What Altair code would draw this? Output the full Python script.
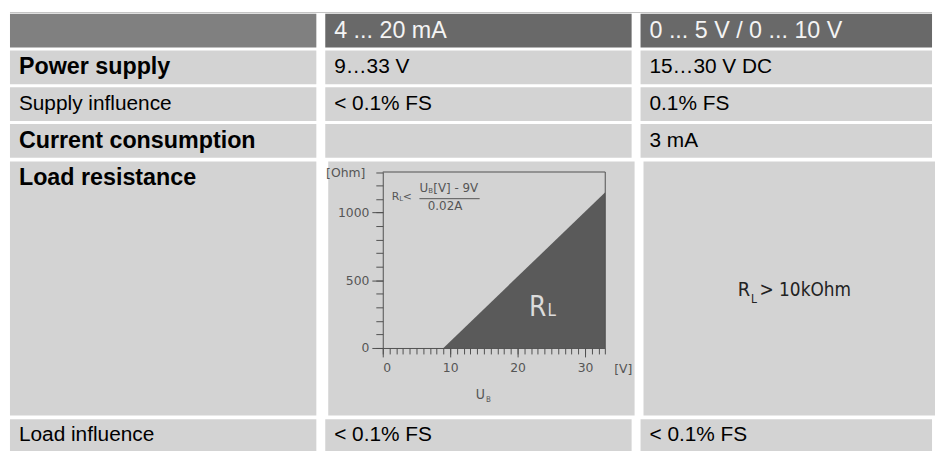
import altair as alt
import pandas as pd

# ---------------- table content ----------------
col_headers = ["", "4 ... 20 mA", "0 ... 5 V / 0 ... 10 V"]
row_labels = ["Power supply", "Supply influence", "Current consumption",
              "Load resistance", "Load influence"]
row_bold = [1, 0, 1, 1, 0]
values_4_20 = ["9…33 V", "< 0.1% FS", "", "", "< 0.1% FS"]
values_0_10 = ["15…30 V DC", "0.1% FS", "3 mA", "", "< 0.1% FS"]
load_0_10 = ["R", "L", "> 10kOhm"]

# ---------------- load-resistance diagram ----------------
ub_volts = [9, 33]
rl_ohms = [0, 1150]
x_domain = [0, 33]
y_domain = [0, 1300]
x_major = [0, 10, 20, 30]
y_major = [0, 500, 1000]
x_minor = list(range(0, 34))
y_minor = list(range(0, 1301, 100))
formula_lhs = ["R", "L", "<"]
formula_num = ["U", "B", "[V] - 9V"]
formula_den = "0.02A"
area_label = ["R", "L"]
x_title = ["U", "B"]
y_title = "[Ohm]"
x_unit = "[V]"

# ---------------- styles ----------------
FONT = "Liberation Sans, Arial, Helvetica, sans-serif"
NARROW = "Liberation Sans Narrow, DejaVu Sans Condensed, Arial Narrow, Liberation Sans, sans-serif"
WIDE = "DejaVu Sans, Verdana, sans-serif"
HEAD0 = "#808080"
HEAD = "#696969"
CELL = "#d3d3d3"
BORDER = "#c4c4c4"
HEAD_TXT = "#f4f4f4"
DARK = "#5a5a5a"
AXIS = "#505050"
LABEL = "#555555"
KINDS = ["head0", "head", "body"]
W = [309, 309, 294]
GAP = 9
TOTAL_W = sum(W) + 2 * GAP
ROW_STEP = 37
ROW_GAP = 3
ROW_BAND = ROW_STEP - ROW_GAP
TOP_H = 4 * ROW_STEP - ROW_GAP
MID_H = 256
BOT_H = 32
VGAP = 4
PAD = 9
FS = 21        # regular body text
FS_BOLD = 23.5  # bold row labels
FS_HEAD = 23.5  # header text

one = pd.DataFrame({"k": [0]})


def rows_panel(texts, kinds, bolds, width, height):
    n = len(texts)
    df = pd.DataFrame({"row": list(range(n)), "text": texts, "kind": kinds, "bold": bolds})
    y = alt.Y("row:O", axis=None,
              scale=alt.Scale(paddingInner=ROW_GAP / ROW_STEP, paddingOuter=0))
    cells = alt.Chart(df).mark_rect().encode(
        y=y,
        fill=alt.Fill("kind:N", scale=alt.Scale(domain=KINDS, range=[HEAD0, HEAD, CELL]),
                      legend=None),
    )

    def txt(flt, weight, size, color):
        return alt.Chart(df).transform_filter(flt).mark_text(
            align="left", baseline="middle", dx=PAD, font=FONT, fontSize=size,
            fontWeight=weight, color=color
        ).encode(y=y, x=alt.value(0), text="text:N")

    return alt.layer(
        cells,
        txt("datum.kind != 'body'", "normal", FS_HEAD, HEAD_TXT),
        txt("datum.kind == 'body' && datum.bold == 0", "normal", FS, "#000000"),
        txt("datum.kind == 'body' && datum.bold == 1", "bold", FS_BOLD, "#000000"),
    ).properties(width=width, height=height)


# ---------------- thin top border of the table ----------------
strip = alt.Chart(one).mark_rect(fill=BORDER).encode(
    x=alt.value(0), x2=alt.value(TOTAL_W), y=alt.value(0), y2=alt.value(1)
).properties(width=TOTAL_W, height=1)

# ---------------- top block (header + 3 rows) ----------------
top_cols = [
    rows_panel([col_headers[0]] + row_labels[:3], ["head0", "body", "body", "body"],
               [0] + row_bold[:3], W[0], TOP_H),
    rows_panel([col_headers[1]] + values_4_20[:3], ["head", "body", "body", "body"],
               [0, 0, 0, 0], W[1], TOP_H),
    rows_panel([col_headers[2]] + values_0_10[:3], ["head", "body", "body", "body"],
               [0, 0, 0, 0], W[2], TOP_H),
]
top = alt.hconcat(*top_cols, spacing=GAP)

# ---------------- middle block (load resistance) ----------------
cell_bg = alt.ViewBackground(fill=CELL, stroke=None)

mid1 = alt.Chart(one).mark_text(
    text=row_labels[3], align="left", baseline="middle", font=FONT, fontSize=FS_BOLD,
    fontWeight="bold", color="black"
).encode(x=alt.value(PAD), y=alt.value(ROW_BAND / 2)).properties(
    width=W[0], height=MID_H, view=cell_bg)

x_scale = alt.Scale(domain=x_domain, range=[55, 279.4], nice=False, zero=False)
y_scale = alt.Scale(domain=y_domain, range=[188, 10.5], nice=False)
X_OFF = -(MID_H - 188)
Y_OFF = -55


def xd(v):
    return alt.XDatum(v, type="quantitative", scale=x_scale)


def yd(v):
    return alt.YDatum(v, type="quantitative", scale=y_scale)


def note(text, xv, yv, size, align="left", font=WIDE, color=LABEL):
    return alt.Chart(one).mark_text(
        text=text, align=align, baseline="alphabetic", font=font, fontSize=size, color=color
    ).encode(x=xd(xv), y=yd(yv))


diag = pd.DataFrame({"ub": ub_volts, "rl": rl_ohms})
area = alt.Chart(diag).mark_area(color=DARK, opacity=1).encode(
    x=alt.X("ub:Q", scale=x_scale,
            axis=alt.Axis(values=x_major, orient="bottom", offset=X_OFF, tickSize=9,
                          labelPadding=5, grid=False, domainColor=AXIS, tickColor=AXIS,
                          labelColor=LABEL, labelFont=WIDE, labelFontSize=12.5, format="d",
                          title=x_unit, titleX=297, titleY=21, titleAlign="center",
                          titleBaseline="middle", titleFont=WIDE, titleFontSize=12.5,
                          titleFontWeight="normal", titleColor=LABEL)),
    y=alt.Y("rl:Q", scale=y_scale,
            axis=alt.Axis(values=y_major, orient="left", offset=Y_OFF, tickSize=11,
                          labelPadding=3, grid=False, domainColor=AXIS, tickColor=AXIS,
                          labelColor=LABEL, labelFont=WIDE, labelFontSize=12.5, format="d",
                          title=y_title, titleAngle=0, titleX=-18, titleY=11.5,
                          titleAlign="right", titleBaseline="middle", titleFont=WIDE,
                          titleFontSize=12.5, titleFontWeight="normal", titleColor=LABEL)),
)

frame_top = alt.Chart(one).mark_rule(color=AXIS, strokeWidth=1).encode(
    x=xd(x_domain[0]), x2=alt.X2Datum(x_domain[1]), y=yd(y_domain[1]))
frame_right = alt.Chart(one).mark_rule(color=AXIS, strokeWidth=1).encode(
    x=xd(x_domain[1]), y=yd(y_domain[0]), y2=alt.Y2Datum(y_domain[1]))
frac_line = alt.Chart(one).mark_rule(color=LABEL, strokeWidth=1).encode(
    x=xd(5.44), x2=alt.X2Datum(14.37), y=yd(1103))

notes = [
    note(formula_lhs[0], 1.32, 1096, 11),
    note(formula_lhs[1], 2.45, 1085, 7),
    note(formula_lhs[2], 2.97, 1096, 11),
    note(formula_num[0], 5.44, 1154, 12),
    note(formula_num[1], 6.76, 1146, 7),
    note(formula_num[2], 7.5, 1154, 12),
    note(formula_den, 9.24, 1018, 12, align="center"),
    note(area_label[0], 24.26, 234, 28, align="right", font=NARROW, color="#dcdcdc"),
    note(area_label[1], 24.45, 234, 17, font=NARROW, color="#dcdcdc"),
    note(x_title[0], 15.15, -380, 14, align="right", font=NARROW),
    note(x_title[1], 15.3, -402, 8, font=NARROW),
]

main = alt.layer(area, frame_top, frame_right, frac_line, *notes)

minor = alt.Chart(one).mark_point(opacity=0).encode(
    x=alt.XDatum(0, type="quantitative", scale=x_scale,
                 axis=alt.Axis(values=x_minor, orient="bottom", offset=X_OFF, tickSize=6,
                               labels=False, domain=False, grid=False, title=None,
                               tickColor=AXIS)),
    y=alt.YDatum(0, type="quantitative", scale=y_scale,
                 axis=alt.Axis(values=y_minor, orient="left", offset=Y_OFF, tickSize=7,
                               labels=False, domain=False, grid=False, title=None,
                               tickColor=AXIS)),
)

mid2 = alt.layer(main, minor).resolve_axis(x="independent", y="independent").properties(
    width=W[1], height=MID_H, view=cell_bg)

mid3 = alt.layer(
    alt.Chart(one).mark_text(text=load_0_10[0], align="right", baseline="alphabetic",
                             font=NARROW, fontSize=20, color="#222222"
                             ).encode(x=alt.value(107.5), y=alt.value(135.7)),
    alt.Chart(one).mark_text(text=load_0_10[1], align="left", baseline="alphabetic",
                             font=NARROW, fontSize=12, color="#222222"
                             ).encode(x=alt.value(108.5), y=alt.value(142.3)),
    alt.Chart(one).mark_text(text=load_0_10[2], align="left", baseline="alphabetic",
                             font=NARROW, fontSize=19, color="#222222"
                             ).encode(x=alt.value(117), y=alt.value(135.7)),
).properties(width=W[2], height=MID_H, view=cell_bg)

mid = alt.hconcat(mid1, mid2, mid3, spacing=GAP)

# ---------------- bottom row ----------------
bot = alt.hconcat(
    rows_panel([row_labels[4]], ["body"], [row_bold[4]], W[0], BOT_H),
    rows_panel([values_4_20[4]], ["body"], [0], W[1], BOT_H),
    rows_panel([values_0_10[4]], ["body"], [0], W[2], BOT_H),
    spacing=GAP,
)

body = alt.vconcat(top, mid, bot, spacing=VGAP)

chart = alt.vconcat(strip, body, spacing=1).properties(
    padding={"left": 2, "top": 2, "right": 0, "bottom": 0},
    background="white",
).configure_view(stroke=None)

chart.save("out.html", embed_options={"renderer": "svg", "actions": False})
